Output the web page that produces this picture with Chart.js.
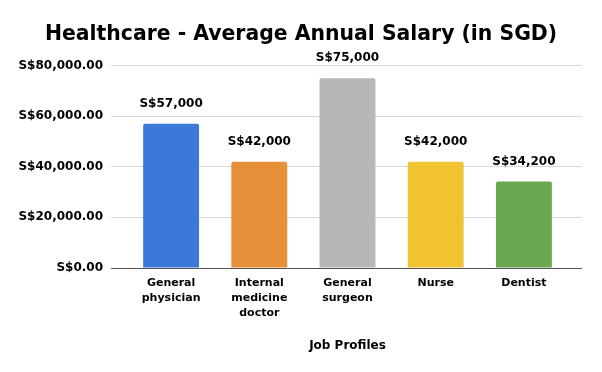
<!DOCTYPE html>
<html>
<head>
<meta charset="utf-8">
<script src="https://cdn.jsdelivr.net/npm/chart.js@4/dist/chart.umd.min.js"></script>
<style>
html,body{margin:0;padding:0;background:#fff;font-family:'DejaVu Sans';}
#wrap{width:602px;height:372px;}
</style>
</head>
<body>
<div id="wrap"><canvas id="c" width="602" height="372"></canvas></div>
<script>
const categories = [["General","physician"],["Internal","medicine","doctor"],["General","surgeon"],["Nurse"],["Dentist"]];
const salaries = [57000, 42000, 75000, 42000, 34200];
const barColors = ["#3c78d8", "#e69138", "#b7b7b7", "#f1c232", "#6aa84f"];
const yTicks = [0, 20000, 40000, 60000, 80000];
const titleText = "Healthcare - Average Annual Salary (in SGD)";
const xTitle = "Job Profiles";

const FONT = "'DejaVu Sans'";
const gridColor = (v) => v === 0 ? "#555555" : "#d9d9d9";

const valueLabels = {
  id: "valueLabels",
  afterDatasetsDraw(chart) {
    const ctx = chart.ctx;
    const meta = chart.getDatasetMeta(0);
    ctx.save();
    ctx.font = "bold 12px " + FONT;
    ctx.fillStyle = "#000";
    ctx.textAlign = "center";
    ctx.textBaseline = "middle";
    meta.data.forEach((bar, i) => {
      const v = chart.data.datasets[0].data[i];
      ctx.fillText("S$" + v.toLocaleString("en-US"), bar.x, bar.y - 20);
    });
    ctx.restore();
  }
};

const gridExtend = {
  id: "gridExtend",
  beforeDatasetsDraw(chart) {
    const ctx = chart.ctx;
    const ys = chart.scales.y;
    const a = chart.chartArea;
    ctx.save();
    ctx.lineWidth = 1;
    ys.ticks.forEach(t => {
      const p = ys.getPixelForValue(t.value);
      const y = Math.round(p - 0.5) + 0.5;
      ctx.strokeStyle = gridColor(t.value);
      ctx.beginPath();
      ctx.moveTo(a.right, y);
      ctx.lineTo(a.right + 14, y);
      ctx.stroke();
    });
    ctx.restore();
  }
};

function build() {
  Chart.defaults.font.family = FONT;
  new Chart(document.getElementById("c"), {
    type: "bar",
    data: {
      labels: categories,
      datasets: [{
        data: salaries,
        backgroundColor: barColors,
        borderRadius: 2,
        borderSkipped: "bottom",
        categoryPercentage: 1.0,
        barPercentage: 0.634
      }]
    },
    options: {
      responsive: false,
      animation: false,
      devicePixelRatio: 1,
      layout: { padding: 0 },
      plugins: {
        legend: { display: false },
        tooltip: { enabled: false },
        title: {
          display: true,
          text: titleText,
          color: "#000",
          font: { family: FONT, size: 20.4, weight: "bold", lineHeight: 1.2 },
          padding: { top: 22, bottom: 19 }
        }
      },
      scales: {
        x: {
          grid: { display: false },
          border: { display: false },
          ticks: {
            color: "#000",
            font: { family: FONT, size: 11, weight: "bold", lineHeight: 1.36 },
            padding: 0,
            maxRotation: 0,
            autoSkip: false
          },
          title: {
            display: true,
            text: xTitle,
            color: "#000",
            font: { family: FONT, size: 12, weight: "bold" },
            padding: { top: 0, bottom: 19 }
          },
          afterFit(scale) { scale.height = 104; }
        },
        y: {
          min: 0,
          max: 80000,
          afterBuildTicks(scale) { scale.ticks = yTicks.map(v => ({ value: v })); },
          grid: {
            color: (c) => gridColor(c.tick ? c.tick.value : 1),
            lineWidth: 1,
            tickLength: 16,
            drawTicks: true
          },
          border: { display: false },
          ticks: {
            color: "#000",
            font: { family: FONT, size: 12, weight: "bold" },
            padding: 8,
            callback: (v) => "S$" + Number(v).toLocaleString("en-US", { minimumFractionDigits: 2, maximumFractionDigits: 2 })
          },
          afterFit(scale) { scale.width = 127; }
        },
        yRight: {
          position: "right",
          display: true,
          min: 0,
          max: 80000,
          grid: { display: false, drawOnChartArea: false },
          border: { display: false },
          ticks: { display: false },
          afterFit(scale) { scale.width = 34; }
        }
      }
    },
    plugins: [valueLabels, gridExtend]
  });
}

if (document.fonts && document.fonts.load) {
  Promise.all([
    document.fonts.load("bold 20px 'DejaVu Sans'"),
    document.fonts.load("bold 12px 'DejaVu Sans'")
  ]).then(build, build);
} else {
  build();
}
</script>
</body>
</html>
